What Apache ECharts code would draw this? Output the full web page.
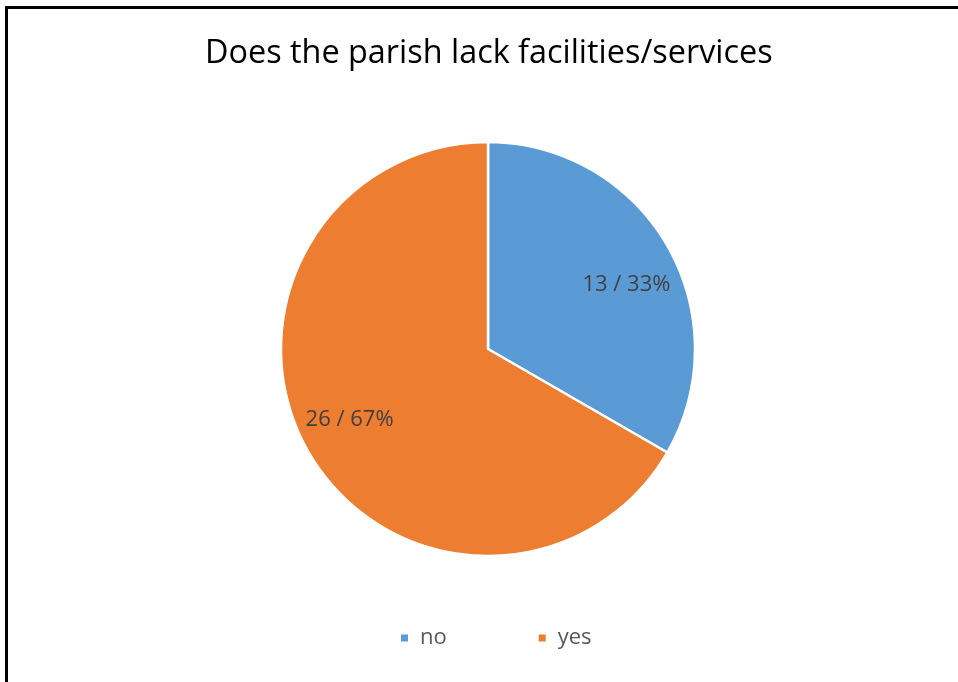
<!DOCTYPE html>
<html>
<head>
<meta charset="utf-8">
<script src="https://cdn.jsdelivr.net/npm/echarts@6/dist/echarts.min.js"></script>
<style>
  html, body { margin: 0; padding: 0; background: #fff; }
  #frame { position: absolute; left: 5px; top: 6px; width: 953px; height: 676px;
           border-left: 3px solid #000; border-top: 3px solid #000; box-sizing: border-box; }
  #chart { position: absolute; left: 0; top: 0; width: 958px; height: 682px; }
</style>
</head>
<body>
<div id="frame"></div>
<div id="chart"></div>
<script>
// Survey answers: does the parish lack facilities/services?
const answers = ['no', 'yes'];
const counts = [13, 26];
const sliceColors = ['#5B9BD5', '#ED7D31'];

const total = counts.reduce((a, b) => a + b, 0);
const pieData = answers.map((name, i) => ({
  name: name,
  value: counts[i],
  itemStyle: { color: sliceColors[i] }
}));

const chart = echarts.init(document.getElementById('chart'), null, { renderer: 'canvas' });
const font = '"Open Sans", Lato, sans-serif';
const center = [488, 349];

chart.setOption({
  backgroundColor: 'transparent',
  animation: false,
  title: {
    text: 'Does the parish lack facilities/services',
    left: 205,
    top: 38,
    padding: 0,
    textStyle: { fontFamily: font, fontSize: 32.4, fontWeight: 'normal', color: '#000' }
  },
  legend: {
    data: answers,
    top: 627,
    left: 399,
    padding: 0,
    icon: 'rect',
    itemWidth: 9,
    itemHeight: 9,
    itemGap: 90,
    textStyle: { fontFamily: font, fontSize: 22, color: '#595959', padding: [0, 0, 0, 6] }
  },
  series: [
    {
      type: 'pie',
      center: center,
      radius: 207,
      startAngle: 90,
      clockwise: true,
      label: { show: false },
      labelLine: { show: false },
      itemStyle: { borderColor: '#fff', borderWidth: 2.5 },
      emphasis: { disabled: true },
      data: pieData
    },
    {
      // transparent ring used only to place the value labels
      type: 'pie',
      center: center,
      radius: [95, 207],
      startAngle: 86,
      clockwise: true,
      silent: true,
      itemStyle: { color: 'rgba(0,0,0,0)' },
      labelLine: { show: false },
      label: {
        show: true,
        position: 'inside',
        offset: [0, 3],
        fontFamily: font,
        fontSize: 22,
        color: '#404040',
        formatter: p => p.value + ' / ' + Math.round(p.value / total * 100) + '%'
      },
      emphasis: { disabled: true },
      data: answers.map((name, i) => ({ name: name, value: counts[i] }))
    }
  ]
});
</script>
</body>
</html>
